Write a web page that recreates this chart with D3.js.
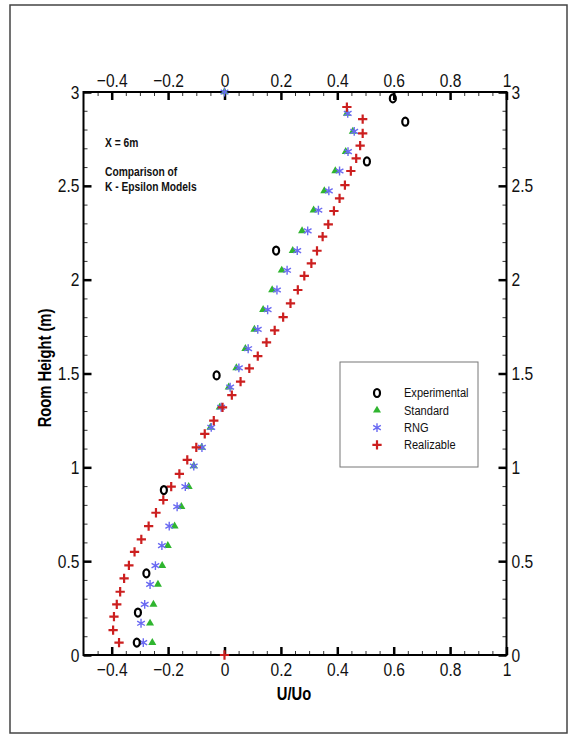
<!DOCTYPE html>
<html>
<head>
<meta charset="utf-8">
<script src="https://cdn.jsdelivr.net/npm/d3@7"></script>
<style>
  body { margin: 0; background: #fff; }
  text { font-family: "Liberation Sans", Arial, sans-serif; }
</style>
</head>
<body>
<svg id="chart" width="572" height="736"></svg>
<script>
    // data (U/Uo vs room height in m)
    var expHeights = [2.966, 2.842, 2.63, 2.155, 1.49, 0.879, 0.435, 0.226, 0.066];
    var expU = [0.597, 0.641, 0.505, 0.183, -0.028, -0.215, -0.277, -0.307, -0.311];

    // Standard and RNG share the same heights
    var modelHeights = [3, 2.886, 2.79, 2.682, 2.579, 2.473, 2.37, 2.26, 2.155, 2.05, 1.945, 1.84,
        1.735, 1.632, 1.53, 1.427, 1.32, 1.213, 1.106, 1.007, 0.897, 0.79, 0.687, 0.583,
        0.476, 0.376, 0.27, 0.169, 0.066];
    var standardU = [0, 0.434, 0.455, 0.43, 0.393, 0.354, 0.316, 0.275, 0.242, 0.203, 0.169, 0.137,
        0.106, 0.074, 0.042, 0.015, -0.017, -0.05, -0.081, -0.109, -0.127, -0.153, -0.177, -0.201,
        -0.221, -0.236, -0.252, -0.264, -0.256];
    var rngU = [0, 0.437, 0.46, 0.438, 0.408, 0.37, 0.333, 0.295, 0.258, 0.222, 0.186, 0.153,
        0.118, 0.084, 0.051, 0.02, -0.012, -0.047, -0.08, -0.109, -0.139, -0.168, -0.196, -0.222,
        -0.245, -0.264, -0.283, -0.296, -0.288];

    var realHeights = [2.92, 2.855, 2.78, 2.714, 2.646, 2.579, 2.504, 2.433, 2.366, 2.295, 2.229,
        2.154, 2.087, 2.02, 1.945, 1.874, 1.8, 1.73, 1.666, 1.593, 1.527, 1.457, 1.385, 1.32,
        1.249, 1.178, 1.106, 1.04, 0.965, 0.897, 0.826, 0.758, 0.687, 0.616, 0.549, 0.478,
        0.408, 0.337, 0.27, 0.205, 0.133, 0.066, 0];
    var realU = [0.434, 0.49, 0.49, 0.481, 0.467, 0.448, 0.427, 0.408, 0.388, 0.368, 0.348,
        0.328, 0.308, 0.283, 0.26, 0.234, 0.208, 0.178, 0.149, 0.118, 0.088, 0.057, 0.026, -0.007,
        -0.038, -0.07, -0.1, -0.132, -0.16, -0.189, -0.217, -0.243, -0.269, -0.295, -0.319, -0.339,
        -0.356, -0.37, -0.382, -0.392, -0.395, -0.374, 0];

    var xTicks = [-0.4, -0.2, 0, 0.2, 0.4, 0.6, 0.8, 1];
    var yTicks = [0, 0.5, 1, 1.5, 2, 2.5, 3];
    var legendNames = ["Experimental", "Standard", "RNG", "Realizable"];

    var NARROW = 0.82; // the original uses a condensed face, squeeze Liberation Sans instead

    var svg = d3.select("#chart");

    // squeeze text horizontally, keeping its anchor point where it was
    function narrow(sel) {
        sel.each(function () {
            var t = d3.select(this);
            var tx = +(t.attr("x") || 0);
            t.attr("x", tx / NARROW);
            var old = t.attr("transform") || "";
            t.attr("transform", old + " scale(" + NARROW + ",1)");
        });
    }

    // outer frame
    svg.append("rect")
        .attr("x", 10).attr("y", 5)
        .attr("width", 557).attr("height", 728)
        .attr("fill", "none")
        .attr("stroke", "#444")
        .attr("stroke-width", 1.5);

    var x = d3.scaleLinear().domain([-0.5, 1]).range([83.5, 506.5]);
    var y = d3.scaleLinear().domain([0, 3]).range([655, 92]);

    var xMinor = d3.range(-0.45, 1.0001, 0.05).filter(v => Math.abs(Math.round(v * 5) - v * 5) > 0.01);
    var yMinor = d3.range(0.1, 3, 0.1).filter(v => Math.abs(Math.round(v * 2) - v * 2) > 0.01);

    function styleAxis(g, fontSize) {
        g.select(".domain").remove();
        g.selectAll("line").attr("stroke", "#000").attr("stroke-width", 2.5);
        g.selectAll("text").attr("font-size", fontSize).attr("fill", "#111").call(narrow);
    }
    function styleMinor(g) {
        g.select(".domain").remove();
        g.selectAll("text").remove();
        g.selectAll("line").attr("stroke", "#333").attr("stroke-width", 1);
    }

    // major ticks, all four sides, pointing in
    svg.append("g").attr("transform", "translate(0,655)")
        .call(d3.axisBottom(x).tickValues(xTicks).tickSize(-8).tickPadding(8).tickFormat(d3.format("")))
        .call(styleAxis, 19);
    svg.append("g").attr("transform", "translate(0,92)")
        .call(d3.axisTop(x).tickValues(xTicks).tickSize(-8).tickPadding(5).tickFormat(d3.format("")))
        .call(styleAxis, 19);
    svg.append("g").attr("transform", "translate(83.5,0)")
        .call(d3.axisLeft(y).tickValues(yTicks).tickSize(-8).tickPadding(4).tickFormat(d3.format("")))
        .call(styleAxis, 19);
    svg.append("g").attr("transform", "translate(506.5,0)")
        .call(d3.axisRight(y).tickValues(yTicks).tickSize(-8).tickPadding(5).tickFormat(d3.format("")))
        .call(styleAxis, 19);

    // minor ticks
    svg.append("g").attr("transform", "translate(0,655)")
        .call(d3.axisBottom(x).tickValues(xMinor).tickSize(-4)).call(styleMinor);
    svg.append("g").attr("transform", "translate(0,92)")
        .call(d3.axisTop(x).tickValues(xMinor).tickSize(-4)).call(styleMinor);
    svg.append("g").attr("transform", "translate(83.5,0)")
        .call(d3.axisLeft(y).tickValues(yMinor).tickSize(-4)).call(styleMinor);
    svg.append("g").attr("transform", "translate(506.5,0)")
        .call(d3.axisRight(y).tickValues(yMinor).tickSize(-4)).call(styleMinor);

    // plot frame
    svg.append("rect")
        .attr("x", x(-0.5)).attr("y", y(3))
        .attr("width", x(1) - x(-0.5)).attr("height", y(0) - y(3))
        .attr("fill", "none")
        .attr("stroke", "#000")
        .attr("stroke-width", 2);

    // axis titles
    svg.append("text")
        .attr("x", 294).attr("y", 700)
        .attr("text-anchor", "middle")
        .attr("font-size", 18).attr("font-weight", "bold")
        .text("U/Uo")
        .call(narrow);
    svg.append("g")
        .attr("transform", "translate(51,368) rotate(-90)")
        .append("text")
        .attr("text-anchor", "middle")
        .attr("font-size", 18).attr("font-weight", "bold")
        .text("Room Height (m)")
        .call(narrow);

    // notes in the corner
    var notes = [["X = 6m", 147], ["Comparison of", 176], ["K - Epsilon Models", 191]];
    notes.forEach(function (n) {
        svg.append("text").attr("x", 105).attr("y", n[1])
            .attr("font-size", 12.5).attr("font-weight", "bold").attr("fill", "#111")
            .text(n[0])
            .call(narrow);
    });

    // marker painters
    var triangle = d3.symbol().type(d3.symbolTriangle).size(28);
    var asterisk = d3.symbol().type(d3.symbolAsterisk).size(55);
    var plus = d3.symbol().type(d3.symbolPlus).size(30);

    function drawStandard(g) {
        g.append("path").attr("d", triangle).attr("fill", "#2fb52f");
    }
    function drawRng(g) {
        g.append("path").attr("d", asterisk).attr("fill", "none")
            .attr("stroke", "#6a6af2").attr("stroke-width", 1.4);
    }
    function drawReal(g) {
        g.append("path").attr("d", plus).attr("fill", "none")
            .attr("stroke", "#cc1f1f").attr("stroke-width", 2.2);
    }
    function drawExp(g) {
        g.append("ellipse").attr("rx", 3).attr("ry", 4)
            .attr("fill", "none").attr("stroke", "#000").attr("stroke-width", 2.2);
    }

    function plotSeries(us, hs, painter) {
        var g = svg.append("g");
        hs.forEach(function (h, i) {
            var m = g.append("g").attr("transform", "translate(" + x(us[i]) + "," + y(h) + ")");
            painter(m);
        });
    }

    plotSeries(standardU, modelHeights, drawStandard);
    plotSeries(rngU, modelHeights, drawRng);
    plotSeries(realU, realHeights, drawReal);
    plotSeries(expU, expHeights, drawExp);

    // legend
    var legend = svg.append("g");
    legend.append("rect")
        .attr("x", 340).attr("y", 362)
        .attr("width", 138).attr("height", 105)
        .attr("fill", "#fff")
        .attr("stroke", "#777").attr("stroke-width", 1);
    var painters = [drawExp, drawStandard, drawRng, drawReal];
    legendNames.forEach(function (name, i) {
        var ly = 393 + i * 17.3;
        var m = legend.append("g").attr("transform", "translate(377," + ly + ")");
        painters[i](m);
        legend.append("text")
            .attr("x", 404).attr("y", ly + 4.5)
            .attr("font-size", 13.5)
            .attr("fill", "#111")
            .text(name)
            .call(narrow);
    });
</script>
</body>
</html>
